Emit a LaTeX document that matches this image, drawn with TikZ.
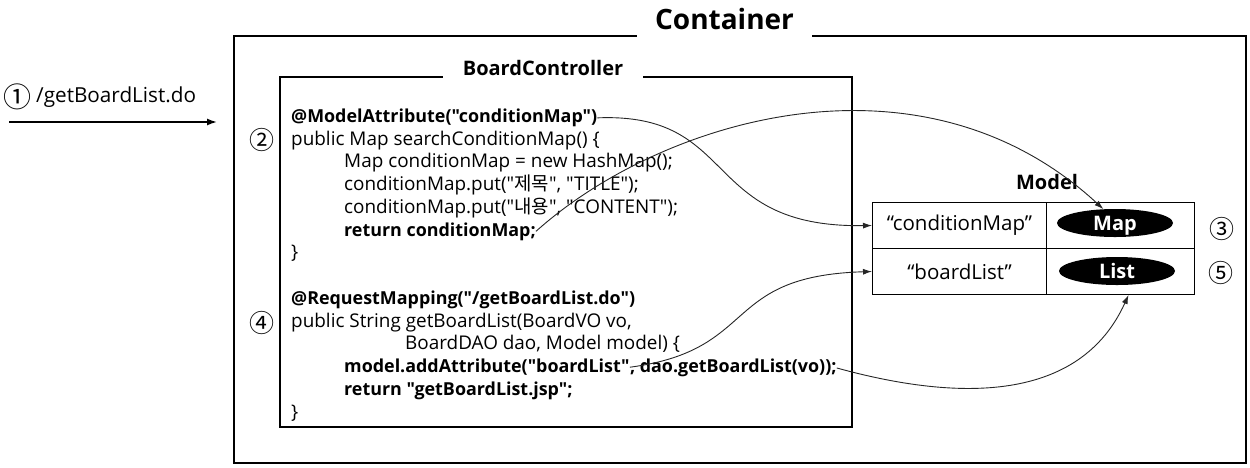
\documentclass[tikz,border=0pt]{standalone}
\usepackage{fontspec}
\setmainfont{Open Sans}[Ligatures=TeXOff]
\newfontfamily\kr{Noto Sans CJK KR}
\usetikzlibrary{arrows.meta,calc,shapes.geometric}
\begin{document}
\begin{tikzpicture}[x=1pt,y=-1pt,
  frame/.style={draw, line width=1.2pt, inner sep=0pt},
  ttl/.style={fill=white, inner xsep=18pt, inner ysep=8pt, anchor=base, font=\bfseries\fontsize{28}{32}\selectfont},
  subttl/.style={fill=white, inner xsep=20pt, inner ysep=4pt, anchor=base, font=\bfseries\fontsize{20}{24}\selectfont},
  code/.style={anchor=base west, inner sep=0pt, font=\fontsize{18.9}{22}\selectfont},
  bcode/.style={anchor=base west, inner sep=0pt, font=\bfseries\fontsize{17.9}{22}\selectfont},
  num/.style={inner sep=0pt, font=\kr\fontsize{25}{28}\selectfont},
  cell/.style={draw, line width=1pt, anchor=north west, minimum width=174pt, minimum height=46pt, inner sep=0pt, font=\fontsize{20.5}{24}\selectfont},
  vcell/.style={draw, line width=1pt, anchor=north west, minimum width=148pt, minimum height=46pt, inner sep=0pt},
  obj/.style={ellipse, fill=black, text=white, inner sep=0pt, text depth=0pt, minimum width=116pt, minimum height=28pt, font=\bfseries\fontsize{20}{24}\selectfont},
  link/.style={draw=black!85, line width=0.9pt, -{Latex[length=9pt,width=6pt]}}
]
\useasboundingbox (0,0) rectangle (1250,467);

% frames
\node[frame, minimum width=1012pt, minimum height=427pt] (cont) at (740,249.5) {};
\node[ttl] (ctitle) at (724.5,29) {Container};
\node[frame, minimum width=572pt, minimum height=350pt] (bc) at (566,252) {};
\node[subttl] (bctitle) at (543,75) {BoardController};

% request
\node[num, font=\kr\fontsize{28}{30}\selectfont] (n1) at (18,97) {①};
\node[anchor=west, inner sep=0pt, font=\fontsize{20.7}{24}\selectfont] (req) at (36,97) {/getBoardList.do};
\coordinate (in0) at (9,122);
\coordinate (in1) at (217,122);
\draw[line width=1.5pt, -{Latex[length=10pt,width=7pt]}] (in0) -- (in1);

% code block 1
\node[num] (n2) at (262,140) {②};
\node[bcode] (l1) at (291,122.5) {@ModelAttribute("conditionMap")};
\node[code] (l2) at (291,145.2) {public Map searchConditionMap() \{};
\node[code] (l3) at (344,167.9) {Map conditionMap = new HashMap();};
\node[code] (l4) at (344,190.6) {conditionMap.put("{\kr 제목}", "TITLE");};
\node[code] (l5) at (344,213.3) {conditionMap.put("{\kr 내용}", "CONTENT");};
\node[bcode] (l6) at (344,236) {return conditionMap;};
\node[code] (l7) at (291,258.7) {\}};

% code block 2
\node[num] (n4) at (262,323) {④};
\node[bcode] (l8) at (291,304.5) {@RequestMapping("/getBoardList.do")};
\node[code] (l9) at (291,327.2) {public String getBoardList(BoardVO vo,};
\node[code] (l10) at (405,349.9) {BoardDAO dao, Model model) \{};
\node[bcode] (l11a) at (344,372.6) {model.addAttribute("boardList"};
\node[bcode] (l11b) at (l11a.base east) {, dao.getBoardList(vo));};
\node[bcode] (l12) at (344,395.3) {return "getBoardList.jsp";};
\node[code] (l13) at (291,418) {\}};

% model table
\node[font=\bfseries\fontsize{20}{24}\selectfont] (mtitle) at (1047,182) {Model};
\node[cell] (k1) at (872,202) {“conditionMap”};
\node[cell] (k2) at (872,248) {“boardList”};
\node[vcell] (v1) at (1046,202) {};
\node[vcell] (v2) at (1046,248) {};
\node[obj] (map) at (1115,223) {Map};
\node[obj] (list) at (1117,271) {List};
\node[num] (n3) at (1222,229) {③};
\node[num] (n5) at (1221,273) {⑤};

% connectors
\draw[link] (l1.east) .. controls (740,112) and (700,228) .. (k1.west);
\draw[link] (l6.east) .. controls (660,120) and (920,40) .. (map.130);
\draw[link] (l11a.east) .. controls (760,350) and (720,276) .. (k2.west);
\draw[link] (l11b.east) .. controls (960,402) and (1080,402) .. ([xshift=8pt]v2.south);
\end{tikzpicture}
\end{document}
